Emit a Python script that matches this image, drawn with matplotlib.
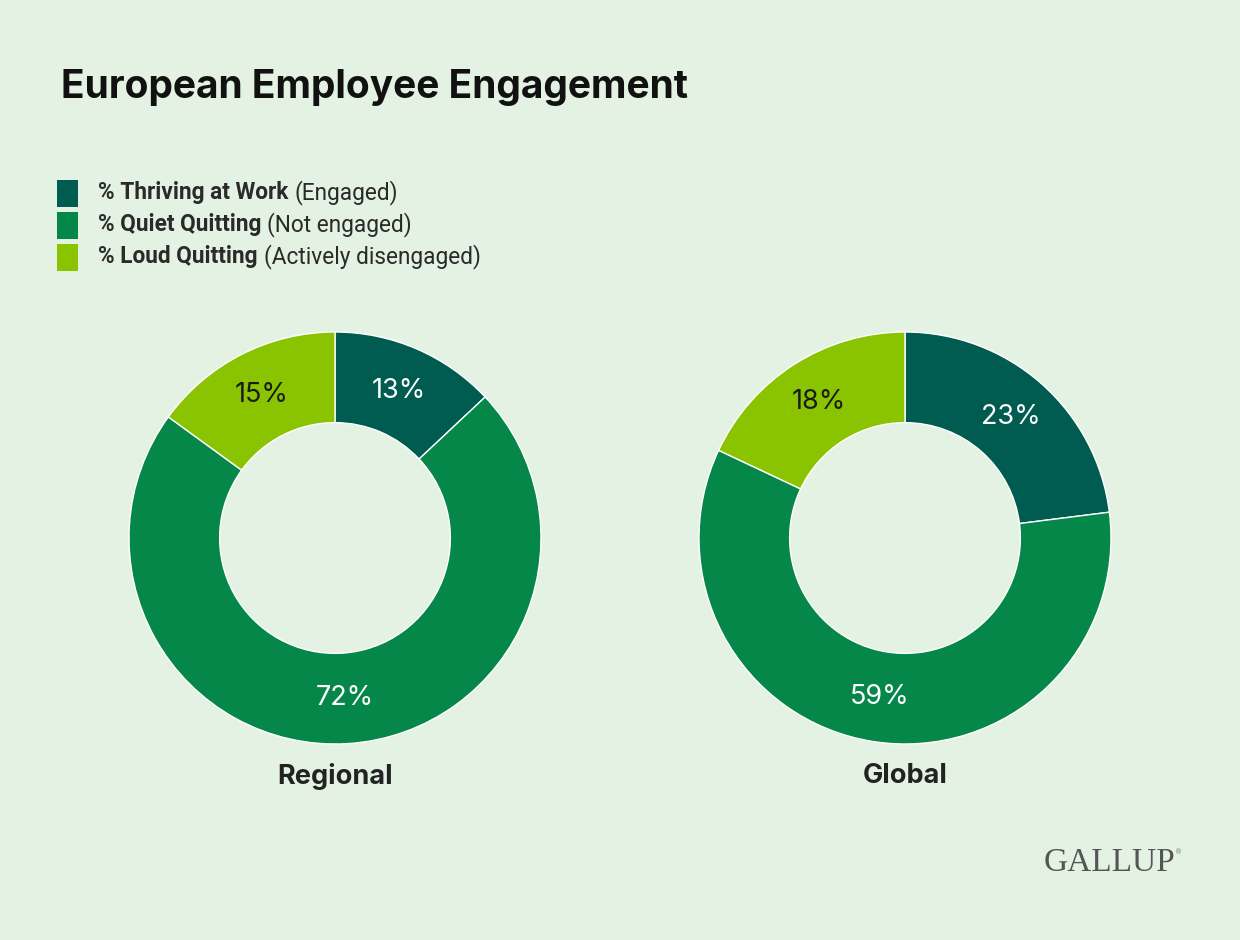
import matplotlib
matplotlib.use("Agg")
import matplotlib.pyplot as plt
from matplotlib.patches import Rectangle

# ---- data ----
categories = ["% Thriving at Work", "% Quiet Quitting", "% Loud Quitting"]
category_notes = ["(Engaged)", "(Not engaged)", "(Actively disengaged)"]
groups = ["Regional", "Global"]
regional_values = [13, 72, 15]
global_values = [23, 59, 18]

colors = ["#005B50", "#06874A", "#8AC400"]
label_colors = ["white", "white", "#1a1a1a"]
bg = "#E3F2E2"

W, H = 1240, 940
fig = plt.figure(figsize=(W / 100, H / 100), dpi=100, facecolor=bg)
ax = fig.add_axes([0, 0, 1, 1])
ax.set_facecolor(bg)

font = "Inter"
legend_font = "Roboto"

def Y(y):
    return H - y

# title
ax.text(61, Y(88), "European Employee Engagement", fontsize=28, fontweight="bold",
        family=font, color="#111111", va="center", ha="left")

# donuts
centers = [(335, 538), (905, 538)]
R = 206
ring = 0.44
for vals, (cx, cy), name in zip([regional_values, global_values], centers, groups):
    wedges, texts, autotexts = ax.pie(
        vals, colors=colors, startangle=90, counterclock=False,
        center=(cx, Y(cy)), radius=R, frame=True,
        wedgeprops=dict(width=R * ring, edgecolor="white", linewidth=1),
        autopct=lambda p: f"{p:.0f}%", pctdistance=0.78)
    for t, c in zip(autotexts, label_colors):
        t.set_color(c)
        t.set_fontsize(19.5)
        t.set_family(font)
    ax.text(cx, Y(776), name, ha="center", va="center", fontsize=19.5,
            fontweight="bold", family=font, color="#222222")

ax.set_xlim(0, W)
ax.set_ylim(0, H)
ax.set_aspect("auto")
ax.axis("off")

# legend
fig.canvas.draw()
renderer = fig.canvas.get_renderer()
row_y = [193, 225, 257]
for cat, note, col, yy in zip(categories, category_notes, colors, row_y):
    ax.add_patch(Rectangle((57, Y(yy) - 13.5), 21, 27, facecolor=col, edgecolor="none"))
    tb = ax.text(98, Y(yy), cat, fontsize=16.3, fontweight="bold", family=legend_font,
                 color="#2a2a2a", va="center", ha="left")
    bb = tb.get_window_extent(renderer=renderer)
    ax.text(bb.x1 + 6, Y(yy), note, fontsize=16.3, family=legend_font,
            color="#2a2a2a", va="center", ha="left")

# logo
ax.text(1175, Y(863), "GALLUP", fontsize=24, family="Liberation Serif",
        color="#555555", ha="right", va="center")
ax.text(1175, Y(852), "®", fontsize=5, family="DejaVu Sans",
        color="#777777", ha="left", va="center")

fig.savefig("out.png", dpi=100, facecolor=bg)
